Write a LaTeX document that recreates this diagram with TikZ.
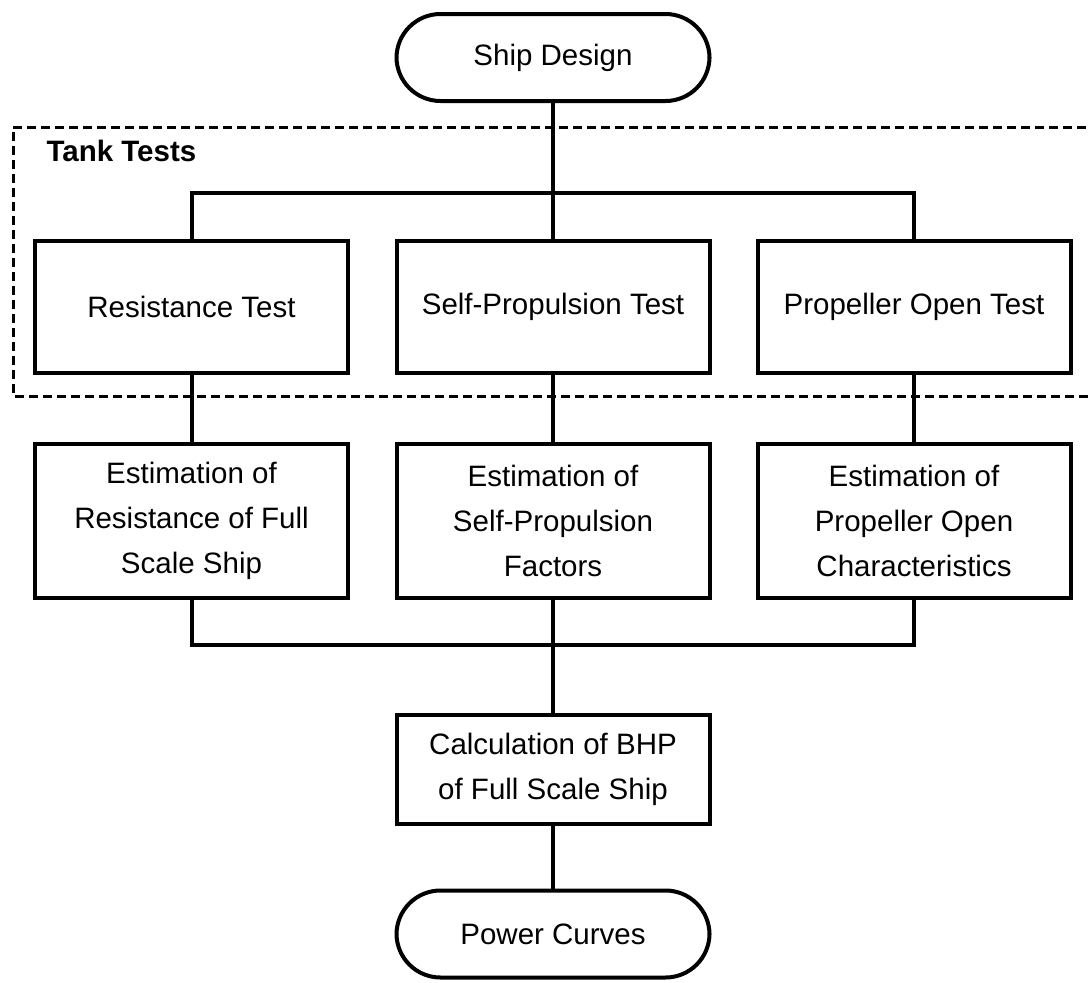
\documentclass[tikz,border=0pt]{standalone}
\usepackage{fontspec}
\setmainfont{Liberation Sans}
\begin{document}
\begin{tikzpicture}[x=1pt,y=-1pt,
  box/.style={draw,line width=4pt,rectangle,minimum width=313pt,align=center,inner sep=0pt,
    font=\fontsize{29.5}{45}\selectfont},
  pill/.style={box,rounded corners=44pt,minimum height=87pt},
  conn/.style={line width=4pt,line join=miter},
  group/.style={line width=3pt,dash pattern=on 9pt off 5pt}]
\useasboundingbox (0,0) rectangle (1088,983);
\draw[group] (1100,127) -- (13,127) -- (13,396) -- (1100,396);
\node[anchor=base west,font=\fontsize{29.5}{34}\selectfont\bfseries] (tt) at (43,161) {Tank Tests};
\node[pill] (sd) at (553,57.5) {Ship Design};
\node[box,minimum height=132pt] (r1) at (191.5,307) {Resistance Test};
\node[box,minimum height=132pt] (r2) at (553,307) {Self-Propulsion Test};
\node[box,minimum height=132pt] (r3) at (914,307) {Propeller Open Test};
\node[box,minimum height=154pt] (e1) at (191.5,521) {Estimation of\\Resistance of Full\\Scale Ship};
\node[box,minimum height=154pt] (e2) at (553,521) {Estimation of\\Self-Propulsion\\Factors};
\node[box,minimum height=154pt] (e3) at (914,521) {Estimation of\\Propeller Open\\Characteristics};
\node[box,minimum height=109pt] (bhp) at (553,769.5) {Calculation of BHP\\of Full Scale Ship};
\node[pill] (pc) at (553,934) {Power Curves};
\coordinate (top) at (553,193);
\coordinate (bot) at (553,645);
\draw[conn] (sd.south) -- (top);
\draw[conn] (r1.north) |- (top) -| (r3.north);
\draw[conn] (top) -- (r2.north);
\draw[conn] (r1.south) -- (e1.north);
\draw[conn] (r2.south) -- (e2.north);
\draw[conn] (r3.south) -- (e3.north);
\draw[conn] (e1.south) |- (bot) -| (e3.south);
\draw[conn] (e2.south) -- (bot);
\draw[conn] (bot) -- (bhp.north);
\draw[conn] (bhp.south) -- (pc.north);
\end{tikzpicture}
\end{document}
